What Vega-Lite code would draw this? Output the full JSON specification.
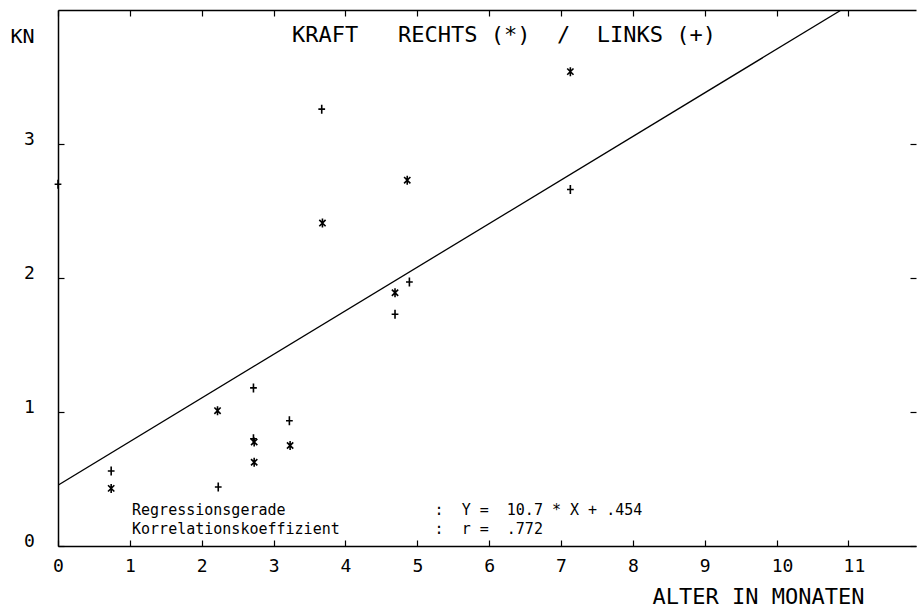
{
  "$schema": "https://vega.github.io/schema/vega-lite/v6.json",
  "width": 858,
  "height": 536,
  "autosize": {"type": "none"},
  "padding": {"left": 58, "top": 10, "right": 1, "bottom": 63},
  "background": "white",
  "title": {
    "text": "KRAFT\u00a0\u00a0\u00a0RECHTS\u00a0(*)\u00a0\u00a0/\u00a0\u00a0LINKS\u00a0(+)",
    "font": "DejaVu Sans Mono",
    "fontSize": 22,
    "fontWeight": "normal",
    "color": "black",
    "anchor": "middle",
    "dx": 17,
    "dy": 21,
    "offset": -34,
    "baseline": "alphabetic"
  },
  "config": {
    "view": {"stroke": null},
    "axis": {
      "grid": false,
      "domainColor": "black",
      "domainWidth": 1.5,
      "tickColor": "black",
      "tickWidth": 1.2,
      "tickSize": -6,
      "labelColor": "black",
      "labelFont": "DejaVu Sans Mono",
      "labelFontSize": 18,
      "titleColor": "black",
      "titleFont": "DejaVu Sans Mono",
      "titleFontWeight": "normal"
    }
  },
  "resolve": {"axis": {"x": "independent", "y": "independent"}},
  "layer": [
    {
      "data": {
        "values": [
          {"alter": 0.74, "kraft": 0.43, "seite": "rechts"},
          {"alter": 2.22, "kraft": 1.01, "seite": "rechts"},
          {"alter": 2.73, "kraft": 0.776, "seite": "rechts"},
          {"alter": 2.73, "kraft": 0.625, "seite": "rechts"},
          {"alter": 3.23, "kraft": 0.75, "seite": "rechts"},
          {"alter": 3.68, "kraft": 2.41, "seite": "rechts"},
          {"alter": 4.69, "kraft": 1.89, "seite": "rechts"},
          {"alter": 4.86, "kraft": 2.73, "seite": "rechts"},
          {"alter": 7.13, "kraft": 3.54, "seite": "rechts"},
          {"alter": 0.0, "kraft": 2.7, "seite": "links"},
          {"alter": 0.74, "kraft": 0.56, "seite": "links"},
          {"alter": 2.23, "kraft": 0.44, "seite": "links"},
          {"alter": 2.72, "kraft": 1.18, "seite": "links"},
          {"alter": 2.72, "kraft": 0.8, "seite": "links"},
          {"alter": 3.22, "kraft": 0.935, "seite": "links"},
          {"alter": 3.67, "kraft": 3.26, "seite": "links"},
          {"alter": 4.69, "kraft": 1.73, "seite": "links"},
          {"alter": 4.89, "kraft": 1.97, "seite": "links"},
          {"alter": 7.13, "kraft": 2.66, "seite": "links"}
        ]
      },
      "mark": {"type": "point", "filled": false, "stroke": "black", "strokeWidth": 1.6, "size": 81, "opacity": 1},
      "encoding": {
        "x": {
          "field": "alter", "type": "quantitative",
          "scale": {"domain": [0, 11.94], "nice": false, "zero": false},
          "axis": {
            "orient": "bottom", "values": [0,1,2,3,4,5,6,7,8,9,10,11],
            "labelAlign": "left", "labelOffset": -5.4, "labelBaseline": "top", "labelPadding": 17,
            "labelFlush": false, "labelOverlap": false,
            "title": "ALTER IN MONATEN", "titleFontSize": 22,
            "titleX": 700, "titleY": 57, "titleAlign": "center", "titleBaseline": "alphabetic"
          }
        },
        "y": {
          "field": "kraft", "type": "quantitative",
          "scale": {"domain": [0, 4], "nice": false, "zero": false},
          "axis": {
            "orient": "left", "values": [0,1,2,3],
            "labelAlign": "center", "labelBaseline": "alphabetic", "labelPadding": 35,
            "labelFlush": false, "labelOverlap": false,
            "title": "KN", "titleFontSize": 20, "titleAngle": 0,
            "titleX": -36, "titleY": 32, "titleAlign": "center", "titleBaseline": "alphabetic"
          }
        },
        "shape": {
          "field": "seite", "type": "nominal",
          "scale": {
            "domain": ["rechts", "links"],
            "range": [
              "M0,-1L0,1M-0.7,-0.7L0.7,0.7M-0.7,0.7L0.7,-0.7",
              "M-0.75,0L0.75,0M0,-1L0,1"
            ]
          },
          "legend": null
        }
      }
    },
    {
      "data": {"values": [{"alter": 0, "kraft": 0.454}, {"alter": 10.9, "kraft": 4.0}]},
      "mark": {"type": "line", "color": "black", "strokeWidth": 1.3, "clip": true},
      "encoding": {
        "x": {
          "field": "alter", "type": "quantitative",
          "axis": {"orient": "top", "values": [0,1,2,3,4,5,6,7,8,9,10,11], "labels": false, "title": null}
        },
        "y": {
          "field": "kraft", "type": "quantitative",
          "axis": {"orient": "right", "values": [0,1,2,3], "labels": false, "domain": false, "title": null}
        }
      }
    },
    {
      "data": {"values": [{}]},
      "mark": {
        "type": "text", "align": "left", "baseline": "alphabetic",
        "font": "DejaVu Sans Mono", "fontSize": 15, "lineHeight": 18.3, "color": "black",
        "text": ["Regressionsgerade", "Korrelationskoeffizient"]
      },
      "encoding": {
        "x": {"datum": 1.03, "type": "quantitative", "axis": null},
        "y": {"datum": 0.229, "type": "quantitative", "axis": null}
      }
    },
    {
      "data": {"values": [{}]},
      "mark": {
        "type": "text", "align": "left", "baseline": "alphabetic",
        "font": "DejaVu Sans Mono", "fontSize": 15, "lineHeight": 18.3, "color": "black",
        "text": [":\u00a0\u00a0Y\u00a0=\u00a0\u00a010.7\u00a0*\u00a0X\u00a0+\u00a0.454", ":\u00a0\u00a0r\u00a0=\u00a0\u00a0.772"]
      },
      "encoding": {
        "x": {"datum": 5.24, "type": "quantitative", "axis": null},
        "y": {"datum": 0.229, "type": "quantitative", "axis": null}
      }
    }
  ]
}
